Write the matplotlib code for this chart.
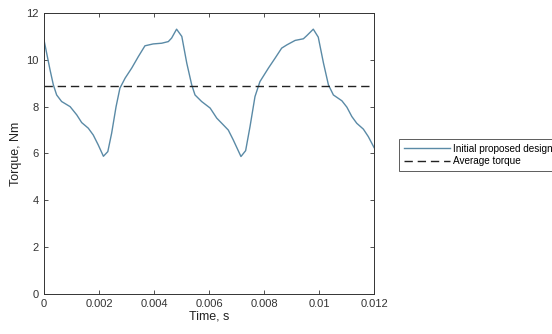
import matplotlib
matplotlib.use("Agg")
import matplotlib.pyplot as plt

plt.rcParams['font.family'] = ['Liberation Sans', 'DejaVu Sans']

# time in seconds, torque in Nm
time_s = [0.0, 0.00022, 0.00034, 0.00046, 0.00064, 0.00095, 0.00119, 0.00137,
          0.00161, 0.00179, 0.00197, 0.00216, 0.00232, 0.00246, 0.00262, 0.00276,
          0.00295, 0.00319, 0.00343, 0.00367, 0.00397, 0.00428, 0.00452, 0.00464,
          0.00482, 0.00501, 0.00519, 0.00537, 0.00549, 0.00573, 0.00604, 0.00628,
          0.00652, 0.0067, 0.00688, 0.00716, 0.00733, 0.00749, 0.00767, 0.00785,
          0.00816, 0.0084, 0.00864, 0.00883, 0.00913, 0.00943, 0.00955, 0.00979,
          0.00997, 0.01016, 0.01034, 0.01052, 0.01083, 0.01101, 0.01119, 0.01137,
          0.01161, 0.01179, 0.012]
torque = [10.85, 9.57, 8.93, 8.5, 8.22, 8.0, 7.65, 7.32,
          7.08, 6.79, 6.37, 5.88, 6.08, 6.87, 8.0, 8.79,
          9.22, 9.65, 10.14, 10.6, 10.68, 10.71, 10.78, 10.93,
          11.31, 11.0, 9.86, 8.93, 8.5, 8.22, 7.94, 7.51,
          7.22, 7.0, 6.58, 5.87, 6.12, 7.15, 8.43, 9.07,
          9.65, 10.07, 10.5, 10.64, 10.83, 10.9, 11.03, 11.31,
          10.97, 9.86, 8.93, 8.5, 8.25, 7.98, 7.58, 7.29,
          7.04, 6.72, 6.25]
avg_torque = 8.9

x_ticks = [0, 0.002, 0.004, 0.006, 0.008, 0.01, 0.012]
x_labels = ['0', '0.002', '0.004', '0.006', '0.008', '0.01', '0.012']
y_ticks = [0, 2, 4, 6, 8, 10, 12]

fig = plt.figure(figsize=(5.52, 3.34), dpi=100)
ax = fig.add_axes([0.0797, 0.12, 0.598, 0.841])

ax.plot(time_s, torque, color='#5a8aa6', lw=1.0, label='Initial proposed design')
ax.axhline(avg_torque, color='#222222', lw=1.0, ls=(0, (6, 3.5)), label='Average torque')

ax.set_xlim(0, 0.012)
ax.set_ylim(0, 12)
ax.set_xticks(x_ticks)
ax.set_xticklabels(x_labels)
ax.set_yticks(y_ticks)
ax.tick_params(direction='in', length=3, width=0.6, labelsize=8,
               colors='#333333', top=True, right=True, pad=4)
for s in ax.spines.values():
    s.set_linewidth(0.7)
    s.set_color('#333333')

ax.set_xlabel('Time, s', fontsize=9, color='#222222', labelpad=1)
ax.set_ylabel('Torque, Nm', fontsize=9, color='#222222', labelpad=3)

leg = fig.legend(loc='center left', bbox_to_anchor=(0.722, 0.536), fontsize=7.2,
                 frameon=True, fancybox=False, edgecolor='#333333',
                 handlelength=4.6, handletextpad=0.3, borderpad=0.5,
                 labelspacing=0.25, borderaxespad=0)
leg.get_frame().set_linewidth(0.7)

fig.savefig('out.png', dpi=100)
